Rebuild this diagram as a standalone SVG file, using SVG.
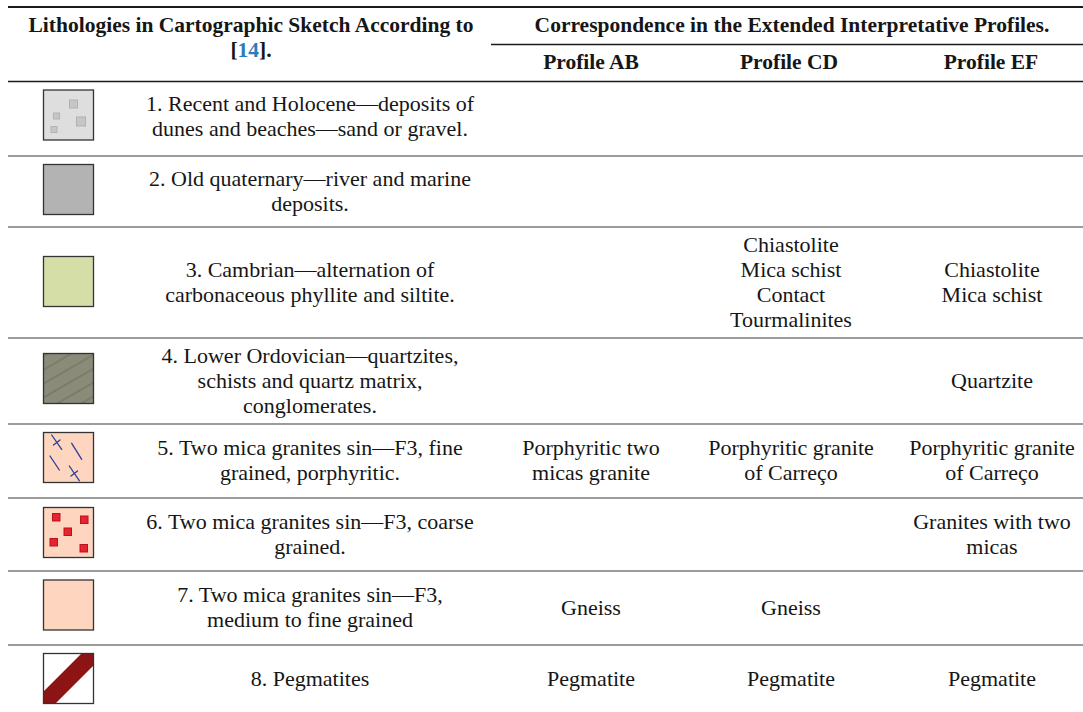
<svg xmlns="http://www.w3.org/2000/svg" width="1083" height="712" viewBox="0 0 1083 712">
<style>
  text { font-family: "Liberation Serif", "Times New Roman", serif; font-size: 22px; fill: #161616; text-anchor: middle; }
  .b { font-weight: bold; font-size: 21.5px; }
  .rule { stroke: #1a1a1a; stroke-width: 1.3; }
  .top { stroke: #1a1a1a; stroke-width: 2; }
  .row { stroke: #3a3a3a; stroke-width: 1.2; }
  .sw { stroke: #333; stroke-width: 1.3; }
  .blue { fill: #2b7bbd; }
</style>
<defs>
  <pattern id="hatch" patternUnits="userSpaceOnUse" width="12" height="12" patternTransform="rotate(-30)">
    <rect width="12" height="12" fill="#8a8b78"/>
    <line x1="0" y1="6" x2="12" y2="6" stroke="#6c6d5c" stroke-width="1"/>
  </pattern>
  <clipPath id="clip8"><rect x="43.5" y="653.5" width="50" height="50"/></clipPath>
</defs>

<g id="rules">
  <line class="top" x1="8" y1="7" x2="1083" y2="7"/>
  <line class="rule" x1="491" y1="44.5" x2="1083" y2="44.5"/>
  <line class="rule" x1="8" y1="81.5" x2="1083" y2="81.5"/>
  <line class="row" x1="8" y1="156" x2="1083" y2="156"/>
  <line class="row" x1="8" y1="227" x2="1083" y2="227"/>
  <line class="row" x1="8" y1="338" x2="1083" y2="338"/>
  <line class="row" x1="8" y1="424" x2="1083" y2="424"/>
  <line class="row" x1="8" y1="498" x2="1083" y2="498"/>
  <line class="row" x1="8" y1="571" x2="1083" y2="571"/>
  <line class="row" x1="8" y1="645" x2="1083" y2="645"/>
</g>

<g id="header">
  <text class="b" x="251" y="32">Lithologies in Cartographic Sketch According to</text>
  <text class="b" x="251" y="57">[<tspan class="blue">14</tspan>].</text>
  <text class="b" x="792" y="32">Correspondence in the Extended Interpretative Profiles.</text>
  <text class="b" x="591" y="69">Profile AB</text>
  <text class="b" x="789" y="69">Profile CD</text>
  <text class="b" x="991" y="69">Profile EF</text>
</g>

<g id="row1">
  <rect class="sw" x="43.5" y="90" width="50" height="50" fill="#dedede"/>
  <g fill="#c6c6c6" stroke="#b2b2b2" stroke-width="1">
    <rect x="69.5" y="100" width="8" height="8"/>
    <rect x="53.5" y="113" width="6" height="6"/>
    <rect x="76.5" y="117" width="9" height="9"/>
    <rect x="51" y="126.5" width="6" height="6"/>
  </g>
  <text x="310" y="111">1. Recent and Holocene—deposits of</text>
  <text x="310" y="136">dunes and beaches—sand or gravel.</text>
</g>

<g id="row2">
  <rect class="sw" x="43.5" y="164.5" width="50" height="50" fill="#b3b3b3"/>
  <text x="310" y="186">2. Old quaternary—river and marine</text>
  <text x="310" y="211">deposits.</text>
</g>

<g id="row3">
  <rect class="sw" x="43.5" y="256.5" width="50" height="50" fill="#d6dea8"/>
  <text x="310" y="277">3. Cambrian—alternation of</text>
  <text x="310" y="302">carbonaceous phyllite and siltite.</text>
  <text x="791" y="252">Chiastolite</text>
  <text x="791" y="277">Mica schist</text>
  <text x="791" y="302">Contact</text>
  <text x="791" y="327">Tourmalinites</text>
  <text x="992" y="277">Chiastolite</text>
  <text x="992" y="302">Mica schist</text>
</g>

<g id="row4">
  <rect class="sw" x="43.5" y="353.5" width="50" height="50" fill="url(#hatch)"/>
  <text x="310" y="363">4. Lower Ordovician—quartzites,</text>
  <text x="310" y="388">schists and quartz matrix,</text>
  <text x="310" y="413">conglomerates.</text>
  <text x="992" y="388">Quartzite</text>
</g>

<g id="row5">
  <rect class="sw" x="43.5" y="432.5" width="50" height="50" fill="#fed5bf"/>
  <g stroke="#27409a" stroke-width="1.3" stroke-linecap="round">
    <line x1="51.7" y1="435" x2="61.7" y2="449.3"/>
    <line x1="53.5" y1="445" x2="60" y2="440"/>
    <line x1="71.7" y1="443.3" x2="81.7" y2="459.3"/>
    <line x1="50" y1="456" x2="59.3" y2="470"/>
    <line x1="69.3" y1="466" x2="79.3" y2="480.7"/>
    <line x1="71" y1="476" x2="77.5" y2="471"/>
  </g>
  <text x="310" y="455">5. Two mica granites sin—F3, fine</text>
  <text x="310" y="480">grained, porphyritic.</text>
  <text x="591" y="455">Porphyritic two</text>
  <text x="591" y="480">micas granite</text>
  <text x="791" y="455">Porphyritic granite</text>
  <text x="791" y="480">of Carreço</text>
  <text x="992" y="455">Porphyritic granite</text>
  <text x="992" y="480">of Carreço</text>
</g>

<g id="row6">
  <rect class="sw" x="43.5" y="507.5" width="50" height="50" fill="#fed5bf"/>
  <g fill="#e8232f" stroke="#b8141f" stroke-width="1">
    <rect x="52.5" y="513.5" width="7.5" height="7.5"/>
    <rect x="80.5" y="516" width="7.5" height="7.5"/>
    <rect x="64" y="528" width="7.5" height="7.5"/>
    <rect x="50" y="538.5" width="7.5" height="7.5"/>
    <rect x="80" y="544.5" width="7.5" height="7.5"/>
  </g>
  <text x="310" y="529">6. Two mica granites sin—F3, coarse</text>
  <text x="310" y="554">grained.</text>
  <text x="992" y="529">Granites with two</text>
  <text x="992" y="554">micas</text>
</g>

<g id="row7">
  <rect class="sw" x="43.5" y="580" width="50" height="50" fill="#fed5bf"/>
  <text x="310" y="602">7. Two mica granites sin—F3,</text>
  <text x="310" y="627">medium to fine grained</text>
  <text x="591" y="615">Gneiss</text>
  <text x="791" y="615">Gneiss</text>
</g>

<g id="row8">
  <rect x="43.5" y="653.5" width="50" height="50" fill="#ffffff"/>
  <line x1="40" y1="707" x2="97" y2="650" stroke="#8c1414" stroke-width="17" clip-path="url(#clip8)"/>
  <rect class="sw" x="43.5" y="653.5" width="50" height="50" fill="none"/>
  <text x="310" y="686">8. Pegmatites</text>
  <text x="591" y="686">Pegmatite</text>
  <text x="791" y="686">Pegmatite</text>
  <text x="992" y="686">Pegmatite</text>
</g>
</svg>
